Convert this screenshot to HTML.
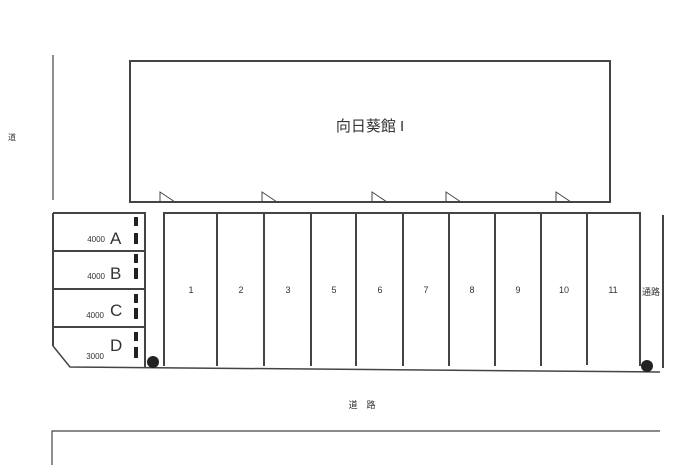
<!DOCTYPE html>
<html><head><meta charset="utf-8"><style>
html,body{margin:0;padding:0;background:#fff;}
svg{display:block;}
text{font-family:"Liberation Sans","Noto Sans CJK JP",sans-serif;fill:#333;}
</style></head><body>
<svg width="698" height="472" viewBox="0 0 698 472" xmlns="http://www.w3.org/2000/svg">
<g fill="none" stroke="#444">
<!-- building -->
<rect x="130" y="61" width="480" height="141" stroke-width="2"/>
<!-- doors -->
<g stroke-width="1">
<path d="M160 202 V192 L175 202"/>
<path d="M262 202 V192 L277 202"/>
<path d="M372 202 V192 L387 202"/>
<path d="M446 202 V192 L461 202"/>
<path d="M556 202 V192 L571 202"/>
</g>
<!-- left road line -->
<line x1="53" y1="55" x2="53" y2="200" stroke-width="1.2"/>
<!-- left boxes -->
<g stroke-width="2">
<path d="M53 213 H145 V368"/>
<line x1="53" y1="251" x2="145" y2="251"/>
<line x1="53" y1="289" x2="145" y2="289"/>
<line x1="53" y1="327" x2="145" y2="327"/>
<line x1="53" y1="213" x2="53" y2="346"/>
</g>
<path d="M53 346 L70 367 L660 372" stroke-width="1.5"/>
<!-- parking -->
<g stroke-width="2">
<path d="M164 366 V213 H640 V366"/>
<line x1="217" y1="213" x2="217" y2="366"/>
<line x1="264" y1="213" x2="264" y2="366"/>
<line x1="311" y1="213" x2="311" y2="366"/>
<line x1="356" y1="213" x2="356" y2="366"/>
<line x1="403" y1="213" x2="403" y2="366"/>
<line x1="449" y1="213" x2="449" y2="366"/>
<line x1="495" y1="213" x2="495" y2="366"/>
<line x1="541" y1="213" x2="541" y2="366"/>
<line x1="587" y1="213" x2="587" y2="365"/>
<line x1="663" y1="215" x2="663" y2="368"/>
</g>
<!-- bottom road -->
<path d="M52 465 V431 H660" stroke-width="1.2"/>
</g>
<!-- dashes -->
<g fill="#222">
<rect x="134" y="217" width="4" height="9"/><rect x="134" y="233" width="4" height="11"/>
<rect x="134" y="254" width="4" height="9"/><rect x="134" y="268" width="4" height="11"/>
<rect x="134" y="294" width="4" height="9"/><rect x="134" y="308" width="4" height="11"/>
<rect x="134" y="332" width="4" height="9"/><rect x="134" y="347" width="4" height="11"/>
<circle cx="153" cy="362" r="6"/>
<circle cx="647" cy="366" r="6"/>
</g>
<text x="370" y="131" font-size="15" text-anchor="middle">向日葵館 I</text>
<text x="8" y="140" font-size="8">道</text>
<g font-size="9" text-anchor="middle">
<text x="191" y="293">1</text><text x="241" y="293">2</text><text x="288" y="293">3</text>
<text x="334" y="293">5</text><text x="380" y="293">6</text><text x="426" y="293">7</text>
<text x="472" y="293">8</text><text x="518" y="293">9</text><text x="564" y="293">10</text>
<text x="613" y="293">11</text>
</g>
<text x="651" y="295" font-size="9" text-anchor="middle">通路</text>
<text x="362" y="408" font-size="9" text-anchor="middle">道　路</text>
<g font-size="8" text-anchor="end">
<text x="105" y="242">4000</text><text x="105" y="279">4000</text>
<text x="104" y="318">4000</text><text x="104" y="359">3000</text>
</g>
<g font-size="17" fill="#111">
<text x="110" y="244">A</text><text x="110" y="279">B</text>
<text x="110" y="316">C</text><text x="110" y="351">D</text>
</g>
</svg>
</body></html>
